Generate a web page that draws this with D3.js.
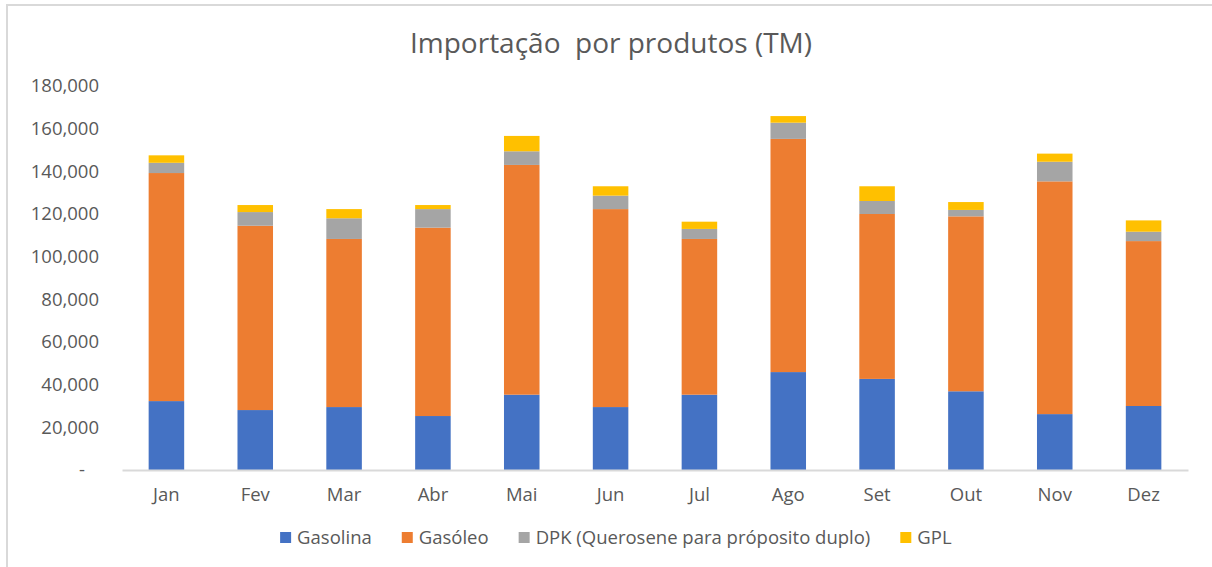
<!DOCTYPE html>
<html>
<head>
<meta charset="utf-8">
<script src="https://cdn.jsdelivr.net/npm/d3@7"></script>
<style>
  body { margin: 0; background: #fff; }
  text { font-family: "Open Sans", sans-serif; fill: #595959; }
</style>
</head>
<body>
<div id="chart"></div>
<script>
// values (TM)
var months = ["Jan", "Fev", "Mar", "Abr", "Mai", "Jun", "Jul", "Ago", "Set", "Out", "Nov", "Dez"];
var gasolina = [32300, 28100, 29500, 25300, 35300, 29500, 35300, 45900, 42700, 36900, 26200, 30000];
var gasoleo  = [106900, 86400, 78800, 88300, 107700, 92800, 73000, 109300, 77300, 82000, 109100, 77300];
var dpk      = [4800, 6400, 9700, 8700, 6400, 6300, 4700, 7600, 6100, 3000, 9200, 4400];
var gpl      = [3500, 3300, 4300, 1900, 7200, 4400, 3400, 3100, 6900, 3700, 3800, 5300];
var seriesNames = ["Gasolina", "Gasóleo", "DPK (Querosene para próposito duplo)", "GPL"];
var colors = ["#4472C4", "#ED7D31", "#A5A5A5", "#FFC000"];
var yTicks = [0, 20000, 40000, 60000, 80000, 100000, 120000, 140000, 160000, 180000];

var width = 1212, height = 567;

var svg = d3.select("#chart").append("svg")
    .attr("width", width)
    .attr("height", height);

// chart frame
svg.append("rect")
    .attr("x", 7).attr("y", 5)
    .attr("width", width + 20).attr("height", height + 20)
    .attr("fill", "#fff")
    .attr("stroke", "#D9D9D9")
    .attr("stroke-width", 2);

svg.append("text")
    .attr("x", 611).attr("y", 53)
    .attr("text-anchor", "middle")
    .style("font-size", "28px")
    .style("white-space", "pre")
    .text("Importação  por produtos (TM)");

var x = d3.scaleBand()
    .domain(months)
    .range([122, 1188])
    .paddingInner(0.6)
    .paddingOuter(0.3);

var y = d3.scaleLinear()
    .domain([0, 180000])
    .range([470, 86]);

var table = months.map(function(m, i) {
    return { month: m, s0: gasolina[i], s1: gasoleo[i], s2: dpk[i], s3: gpl[i] };
});
var stack = d3.stack().keys(["s0", "s1", "s2", "s3"]);
var layers = stack(table);

svg.append("g").selectAll("g")
    .data(layers)
    .enter().append("g")
    .attr("fill", function(d, i) { return colors[i]; })
    .selectAll("rect")
    .data(function(d) { return d; })
    .enter().append("rect")
    .attr("x", function(d) { return x(d.data.month); })
    .attr("y", function(d) { return y(d[1]); })
    .attr("width", x.bandwidth())
    .attr("height", function(d) { return y(d[0]) - y(d[1]); });

// y axis labels
var yAxis = d3.axisLeft(y)
    .tickValues(yTicks)
    .tickSize(0)
    .tickPadding(0)
    .tickFormat(function(d) { return d === 0 ? "-" : d3.format(",")(d); });

var gy = svg.append("g")
    .attr("transform", "translate(99,0)")
    .call(yAxis);
gy.select(".domain").remove();
gy.selectAll("text")
    .style("font-size", "18.5px")
    .attr("fill", "#595959")
    .attr("dx", function(d) { return d === 0 ? "-14px" : 0; });

// x axis
var xAxis = d3.axisBottom(x).tickSize(0).tickPadding(18);
var gx = svg.append("g")
    .attr("transform", "translate(0,470)")
    .call(xAxis);
gx.select(".domain")
    .attr("stroke", "#D9D9D9")
    .attr("stroke-width", 2);
gx.selectAll("text")
    .style("font-size", "18.5px")
    .attr("fill", "#595959");

// legend
var legend = svg.append("g").attr("transform", "translate(0,538)");
var items = legend.selectAll("g")
    .data(seriesNames)
    .enter().append("g");
items.append("rect")
    .attr("width", 11).attr("height", 11)
    .attr("y", -6)
    .attr("fill", function(d, i) { return colors[i]; });
items.append("text")
    .attr("x", 17)
    .attr("y", 0)
    .attr("dy", "0.35em")
    .style("font-size", "18.5px")
    .text(function(d) { return d; });

var widths = [];
items.each(function() { widths.push(this.getBBox().width); });
var gap = 30;
var total = d3.sum(widths) + gap * (widths.length - 1);
var cur = 616 - total / 2;
items.attr("transform", function(d, i) {
    var t = "translate(" + cur + ",0)";
    cur += widths[i] + gap;
    return t;
});
</script>
</body>
</html>
